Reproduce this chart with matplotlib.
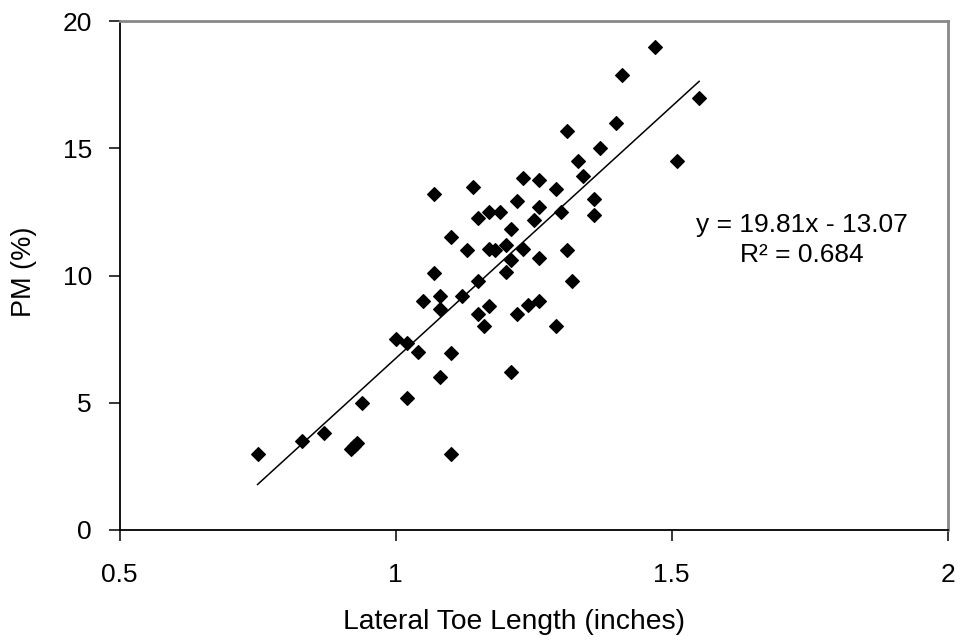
import numpy as np
import matplotlib
matplotlib.use('Agg')
import matplotlib.pyplot as plt

plt.rcParams['font.family'] = ['Liberation Sans', 'DejaVu Sans']

#####data#####
toe_length = [0.75, 0.83, 0.87, 0.92, 0.925, 0.93, 0.94, 1.00, 1.02, 1.02,
              1.04, 1.05, 1.07, 1.07, 1.08, 1.08, 1.08, 1.10, 1.10, 1.10,
              1.12, 1.13, 1.14, 1.15, 1.15, 1.15, 1.16, 1.17, 1.17, 1.17,
              1.18, 1.19, 1.20, 1.20, 1.21, 1.21, 1.21, 1.22, 1.22, 1.23,
              1.23, 1.24, 1.25, 1.26, 1.26, 1.26, 1.26, 1.29, 1.29, 1.30,
              1.31, 1.31, 1.32, 1.33, 1.34, 1.36, 1.36, 1.37, 1.40, 1.41,
              1.47, 1.51, 1.55]
pm = [3.0, 3.5, 3.8, 3.2, 3.3, 3.4, 5.0, 7.5, 7.35, 5.2,
      7.0, 9.0, 10.1, 13.2, 9.2, 8.7, 6.0, 11.5, 6.95, 3.0,
      9.2, 11.0, 13.5, 12.25, 9.8, 8.5, 8.0, 12.5, 11.05, 8.8,
      11.0, 12.5, 11.2, 10.15, 11.85, 10.6, 6.2, 12.95, 8.5, 13.85,
      11.05, 8.85, 12.2, 13.75, 12.7, 10.7, 9.0, 13.4, 8.0, 12.5,
      15.7, 11.0, 9.8, 14.5, 13.9, 13.0, 12.4, 15.0, 16.0, 17.9,
      19.0, 14.5, 17.0]

slope = 19.81
intercept = -13.07

fig = plt.figure(figsize=(9.61, 6.42), dpi=100)
ax = fig.add_axes([0.1244, 0.1745, 0.8616, 0.7925])

ax.scatter(toe_length, pm, marker='D', s=48, color='black', zorder=3)

#####trend line over the data range#####
xfit = np.array([min(toe_length), max(toe_length)])
ax.plot(xfit, slope * xfit + intercept, color='black', lw=1.1, zorder=2)

ax.text(1.736, 12.0, "y = 19.81x - 13.07", fontsize=19, ha='center', va='center')
ax.text(1.736, 10.8, "R² = 0.684", fontsize=19, ha='center', va='center')

ax.set_xlim(0.5, 2)
ax.set_ylim(0, 20)
ax.set_xticks([0.5, 1, 1.5, 2])
ax.set_xticklabels(['0.5', '1', '1.5', '2'])
ax.set_yticks([0, 5, 10, 15, 20])

for s in ['top', 'right']:
    ax.spines[s].set_color('#888888')
    ax.spines[s].set_linewidth(2)
for s in ['left', 'bottom']:
    ax.spines[s].set_color('black')
    ax.spines[s].set_linewidth(1.3)

ax.tick_params(direction='out', length=8, width=1.1, labelsize=19)
ax.tick_params(axis='x', pad=16)
ax.tick_params(axis='y', pad=12)
ax.set_xlabel("Lateral Toe Length (inches)", fontsize=20.3, va='center')
ax.xaxis.set_label_coords(0.4765, -0.181)
ax.set_ylabel("PM (%)", fontsize=19.5, va='center')
ax.yaxis.set_label_coords(-0.1153, 0.507)

plt.savefig('out.png', dpi=100)
